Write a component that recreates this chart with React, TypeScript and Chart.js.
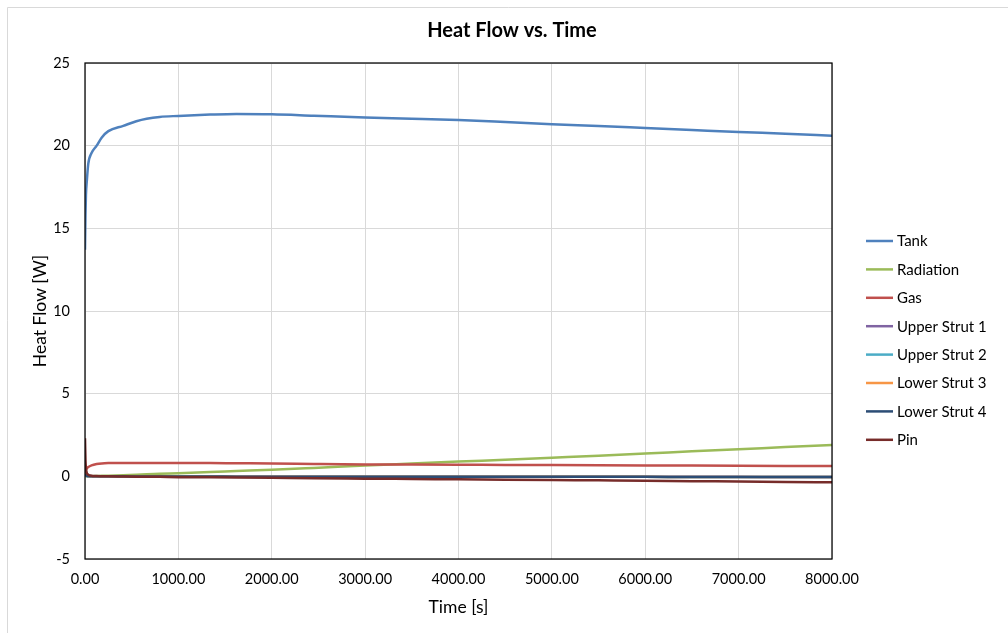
import React, { useEffect, useRef } from "react";
import { Chart, registerables } from "chart.js";

Chart.register(...registerables);

const times = [0, 5, 10, 20, 35, 70, 125, 180, 250, 410, 550, 660, 800, 1000, 1340, 1620, 2000, 2450, 3000, 3500, 4000, 4500, 5000, 5500, 6000, 6500, 7000, 7500, 8000];

const tank = [13.7, 15.8, 17.0, 17.9, 18.9, 19.55, 20.0, 20.5, 20.88, 21.2, 21.48, 21.63, 21.74, 21.8, 21.88, 21.92, 21.9, 21.81, 21.7, 21.63, 21.55, 21.43, 21.3, 21.19, 21.07, 20.95, 20.83, 20.72, 20.6];
const radiation = [0, 0, 0, 0, 0.01, 0.01, 0.02, 0.03, 0.04, 0.07, 0.1, 0.12, 0.15, 0.19, 0.26, 0.32, 0.4, 0.51, 0.65, 0.77, 0.89, 1.01, 1.13, 1.25, 1.38, 1.51, 1.64, 1.77, 1.9];
const gas = [0.1, 0.3, 0.4, 0.48, 0.56, 0.66, 0.74, 0.78, 0.8, 0.81, 0.81, 0.81, 0.81, 0.8, 0.8, 0.79, 0.78, 0.75, 0.72, 0.71, 0.7, 0.69, 0.68, 0.67, 0.66, 0.65, 0.64, 0.63, 0.62];
const upperStrut1 = [0.1, 0.06, 0.04, 0.02, 0.01, 0.01, 0.0, 0.0, 0.0, 0.0, 0.0, -0.01, -0.01, -0.01, -0.01, -0.01, -0.02, -0.02, -0.02, -0.02, -0.02, -0.03, -0.03, -0.03, -0.03, -0.03, -0.03, -0.04, -0.04];
const upperStrut2 = [0.11, 0.07, 0.04, 0.02, 0.01, 0.01, 0.0, 0.0, 0.0, 0.0, -0.01, -0.01, -0.01, -0.01, -0.01, -0.02, -0.02, -0.02, -0.02, -0.02, -0.03, -0.03, -0.03, -0.03, -0.03, -0.04, -0.04, -0.04, -0.04];
const lowerStrut3 = [0.14, 0.08, 0.05, 0.03, 0.02, 0.01, 0.0, 0.0, 0.0, 0.0, -0.01, -0.01, -0.01, -0.01, -0.01, -0.02, -0.02, -0.02, -0.02, -0.02, -0.03, -0.03, -0.03, -0.03, -0.03, -0.04, -0.04, -0.04, -0.04];
const lowerStrut4 = [0.15, 0.08, 0.05, 0.03, 0.02, 0.01, 0.0, 0.0, 0.0, 0.0, -0.01, -0.01, -0.01, -0.01, -0.01, -0.02, -0.02, -0.02, -0.02, -0.02, -0.03, -0.03, -0.03, -0.03, -0.03, -0.04, -0.04, -0.04, -0.04];
const pin = [2.3, 1.0, 0.5, 0.2, 0.1, 0.04, 0.02, 0.01, 0.0, -0.01, -0.02, -0.02, -0.03, -0.05, -0.06, -0.07, -0.09, -0.12, -0.14, -0.16, -0.18, -0.2, -0.22, -0.24, -0.26, -0.29, -0.31, -0.34, -0.36];

const seriesNames = ["Tank", "Radiation", "Gas", "Upper Strut 1", "Upper Strut 2", "Lower Strut 3", "Lower Strut 4", "Pin"];
const seriesValues = [tank, radiation, gas, upperStrut1, upperStrut2, lowerStrut3, lowerStrut4, pin];
const seriesColors = ["#4F81BD", "#9BBB59", "#C0504D", "#8064A2", "#4BACC6", "#F79646", "#2C4D75", "#772C2A"];

const FONT = "Lato, 'Open Sans', sans-serif";

const framePlugin = {
  id: "frame",
  beforeDraw(chart: any) {
    const { ctx, width, height } = chart;
    ctx.save();
    ctx.fillStyle = "#ffffff";
    ctx.fillRect(0, 0, width, height);
    ctx.strokeStyle = "#D9D9D9";
    ctx.lineWidth = 1;
    ctx.beginPath();
    ctx.moveTo(7.5, height + 2);
    ctx.lineTo(7.5, 7.5);
    ctx.lineTo(width + 2, 7.5);
    ctx.stroke();
    ctx.restore();
  },
  afterDatasetsDraw(chart: any) {
    const { ctx, chartArea } = chart;
    ctx.save();
    ctx.strokeStyle = "#000000";
    ctx.lineWidth = 1.25;
    ctx.strokeRect(chartArea.left, chartArea.top, chartArea.right - chartArea.left, chartArea.bottom - chartArea.top);
    ctx.restore();
  },
};

const legendPlugin = {
  id: "sideLegend",
  afterDraw(chart: any) {
    const { ctx, chartArea } = chart;
    ctx.save();
    ctx.font = `15px ${FONT}`;
    ctx.textBaseline = "middle";
    ctx.textAlign = "left";
    chart.data.datasets.forEach((ds: any, i: number) => {
      const y = chartArea.top + 178 + i * 28.4;
      const x0 = chartArea.right + 34;
      ctx.strokeStyle = ds.borderColor;
      ctx.lineWidth = 2.5;
      ctx.beginPath();
      ctx.moveTo(x0, y);
      ctx.lineTo(x0 + 27, y);
      ctx.stroke();
      ctx.fillStyle = "#000000";
      ctx.fillText(ds.label, x0 + 31, y + 0.5);
    });
    ctx.restore();
  },
};

export default function App() {
  const ref = useRef<HTMLCanvasElement | null>(null);

  useEffect(() => {
    if (!ref.current) return;
    const datasets = seriesNames.map((name, i) => ({
      label: name,
      data: times.map((t, j) => ({ x: t, y: seriesValues[i][j] })),
      borderColor: seriesColors[i],
      backgroundColor: seriesColors[i],
      borderWidth: 2.5,
      pointRadius: 0,
      pointHoverRadius: 0,
      fill: false,
      cubicInterpolationMode: "monotone" as const,
      order: seriesNames.length - 1 - i,
    }));

    const chart = new Chart(ref.current, {
      type: "line",
      data: { datasets },
      plugins: [framePlugin, legendPlugin],
      options: {
        animation: false,
        responsive: false,
        devicePixelRatio: 1,
        layout: { padding: { left: 16, right: 0, top: 0, bottom: 0 } },
        plugins: {
          legend: { display: false },
          tooltip: { enabled: false },
          title: {
            display: true,
            text: "Heat Flow vs. Time",
            color: "#000000",
            font: { family: FONT, size: 20, weight: "bold" },
            padding: { top: 19, bottom: 20 },
          },
        },
        scales: {
          x: {
            type: "linear",
            min: 0,
            max: 8000,
            afterFit: (s: any) => { s.height = 74; },
            ticks: {
              stepSize: 1000,
              padding: 12,
              color: "#000000",
              font: { family: FONT, size: 14.5 },
              maxRotation: 0,
              callback: (v: any) => Number(v).toFixed(2),
            },
            grid: { color: "#D9D9D9", lineWidth: 1, drawTicks: false },
            border: { display: false },
            title: {
              display: true,
              text: "Time [s]",
              color: "#000000",
              font: { family: FONT, size: 17.5 },
              padding: { top: 0, bottom: 15.5 },
            },
          },
          y: {
            type: "linear",
            min: -5,
            max: 25,
            afterFit: (s: any) => { s.width = 69; },
            ticks: {
              stepSize: 5,
              padding: 15,
              color: "#000000",
              font: { family: FONT, size: 14.5 },
            },
            grid: { color: "#D9D9D9", lineWidth: 1, drawTicks: false },
            border: { display: false },
            title: {
              display: true,
              text: "Heat Flow [W]",
              color: "#000000",
              font: { family: FONT, size: 17.5 },
              padding: { top: 13.5, bottom: 0 },
            },
          },
          yRight: {
            type: "linear",
            position: "right",
            display: true,
            afterFit: (s: any) => { s.width = 176; },
            ticks: { display: false },
            grid: { display: false, drawTicks: false },
            border: { display: false },
          },
        },
      },
    });
    return () => chart.destroy();
  }, []);

  return (
    <div style={{ position: "fixed", left: 0, top: 0, width: 1008, height: 633, background: "#fff" }}>
      <canvas ref={ref} width={1008} height={633} style={{ display: "block", width: 1008, height: 633 }} />
    </div>
  );
}
